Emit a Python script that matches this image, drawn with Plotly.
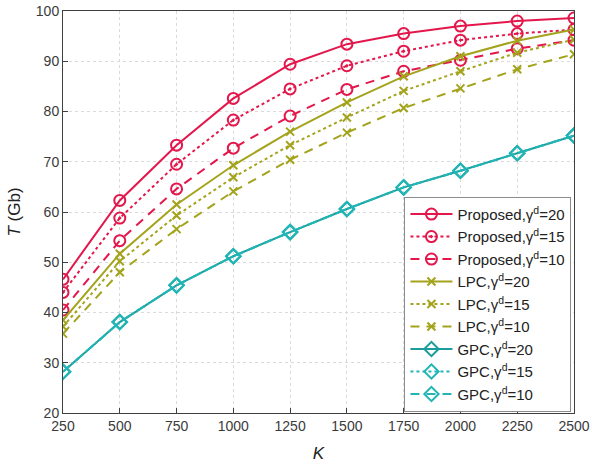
import plotly.graph_objects as go

K = [250, 500, 750, 1000, 1250, 1500, 1750, 2000, 2250, 2500]

prop_20 = [46.6, 62.3, 73.3, 82.6, 89.4, 93.4, 95.5, 97.0, 98.0, 98.6]
prop_15 = [44.0, 58.8, 69.5, 78.3, 84.5, 89.1, 92.0, 94.2, 95.5, 96.3]
prop_10 = [40.5, 54.3, 64.6, 72.7, 79.1, 84.4, 88.0, 90.2, 92.5, 94.2]
lpc_20 = [38.5, 51.7, 61.5, 69.3, 76.0, 81.8, 87.0, 91.0, 94.1, 96.3]
lpc_15 = [37.2, 50.2, 59.3, 66.9, 73.3, 78.8, 84.1, 88.0, 91.7, 94.3]
lpc_10 = [35.8, 48.0, 56.6, 64.1, 70.4, 75.8, 80.7, 84.6, 88.4, 91.4]
gpc_20 = [28.2, 38.1, 45.4, 51.2, 56.0, 60.6, 64.9, 68.2, 71.7, 75.2]
gpc_15 = [28.2, 38.1, 45.4, 51.2, 56.0, 60.6, 64.9, 68.2, 71.7, 75.2]
gpc_10 = [28.2, 38.1, 45.4, 51.2, 56.0, 60.6, 64.9, 68.2, 71.7, 75.2]

names = [
    "Proposed,γ<sup>d</sup>=20", "Proposed,γ<sup>d</sup>=15", "Proposed,γ<sup>d</sup>=10",
    "LPC,γ<sup>d</sup>=20", "LPC,γ<sup>d</sup>=15", "LPC,γ<sup>d</sup>=10",
    "GPC,γ<sup>d</sup>=20", "GPC,γ<sup>d</sup>=15", "GPC,γ<sup>d</sup>=10",
]
series = [prop_20, prop_15, prop_10, lpc_20, lpc_15, lpc_10, gpc_20, gpc_15, gpc_10]

RED = "#E3174B"
OLIVE = "#A3A31C"
TEAL = "#1C9C9A"
CYAN = "#22B5B5"
colors = [RED, RED, RED, OLIVE, OLIVE, OLIVE, TEAL, CYAN, CYAN]
dashes = ["solid", "dot", "9px,7px"] * 3
symbols = ["circle-open", "circle-open-dot", "circle-open"] + ["x-thin-open"] * 3 + ["diamond-open"] * 3
msizes = [11] * 3 + [8] * 3 + [11] * 3

fig = go.Figure()
for i in range(9):
    fig.add_trace(go.Scatter(
        x=K, y=series[i], name=names[i], mode="lines+markers",
        legendgroup="g%d" % i,
        line=dict(color=colors[i], width=2, dash=dashes[i]),
        marker=dict(symbol=symbols[i], size=msizes[i], color=colors[i],
                    line=dict(width=2, color=colors[i])),
    ))

axis_common = dict(
    showline=True, linecolor="#404040", linewidth=1, mirror=True,
    ticks="inside", ticklen=5, tickcolor="#404040",
    showgrid=True, gridcolor="#DADADA", griddash="dot", gridwidth=1,
    tickfont=dict(family="Liberation Sans, Arial", size=14, color="#3A3A3A"),
    zeroline=False, automargin=False,
)

fig.update_layout(
    width=592, height=468,
    margin=dict(l=63, r=18, t=11, b=55),
    paper_bgcolor="white", plot_bgcolor="white",
    font=dict(family="Liberation Sans, Arial", size=14, color="#222222"),
    xaxis=dict(range=[250, 2500], tickvals=K, title=dict(text="<i>K</i>", standoff=14), **axis_common),
    yaxis=dict(range=[20, 100], dtick=10, title=dict(text="<i>T</i> (Gb)", standoff=10), **axis_common),
    legend=dict(
        x=0.995, y=0.003, xanchor="right", yanchor="bottom",
        bgcolor="white", bordercolor="#8C8C8C", borderwidth=1,
        font=dict(family="Liberation Sans, Arial", size=15, color="#222222"),
        tracegroupgap=0, itemwidth=42,
    ),
)

fig.write_html("out.html", config={"displayModeBar": False},
               post_script="document.body.style.margin='0';")
